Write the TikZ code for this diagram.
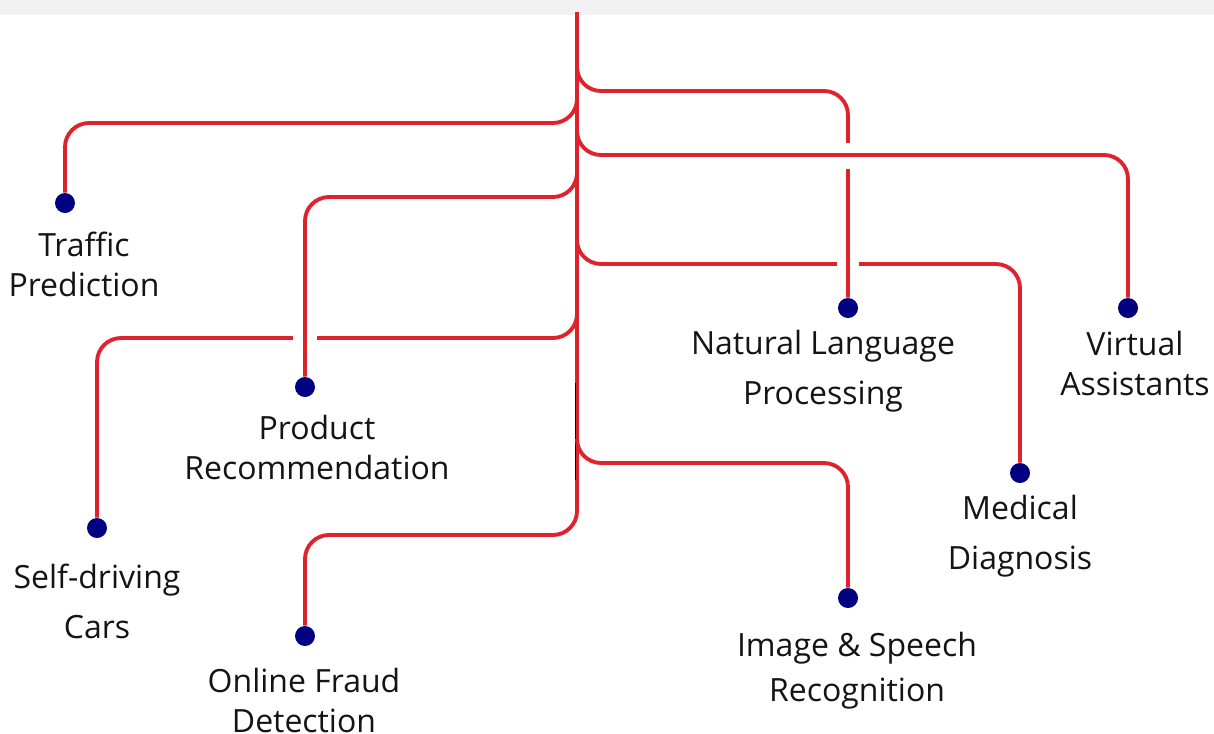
\documentclass[tikz,border=0pt]{standalone}
\usepackage{fontspec}
\setmainfont{Open Sans}
\definecolor{brred}{RGB}{222,35,45}
\definecolor{dotblue}{RGB}{0,0,128}
\definecolor{band}{RGB}{241,241,241}
\definecolor{overlay}{RGB}{150,40,100}
\begin{document}
\begin{tikzpicture}[x=0.75pt,y=-0.75pt,
  branch/.style={draw=brred,line width=2.9pt,rounded corners=18pt},
  gapfill/.style={fill=white},
  dot/.style={circle,fill=dotblue,inner sep=0pt,minimum size=15pt},
  lbl/.style={align=center,font=\fontsize{24}{30}\selectfont,text=black!92,inner sep=0pt}]
\useasboundingbox (0,0) rectangle (1214,733);
\fill[band] (0,0) rectangle (1214,15);

% dots
\node[dot] (dTraffic) at (65,203) {};
\node[dot] (dProduct) at (305,387) {};
\node[dot] (dSelf) at (97,528) {};
\node[dot] (dFraud) at (305,636) {};
\node[dot] (dNLP) at (848,308) {};
\node[dot] (dVirtual) at (1128,308) {};
\node[dot] (dMedical) at (1020,473) {};
\node[dot] (dImage) at (848,598) {};

% trunk coordinates
\coordinate (top) at (577,12);
\coordinate (tNLP) at (577,67);
\coordinate (tTraffic) at (577,99);
\coordinate (tVirtual) at (577,131);
\coordinate (tProduct) at (577,173);
\coordinate (tMedical) at (577,240);
\coordinate (tSelf) at (577,314);
\coordinate (tImage) at (577,439);

% trunk + online fraud branch
\draw[branch] (top) -- (577,535) -- (305,535) -- (dFraud);
\draw[overlay,line width=0.9pt] (575.5,383) -- (575.5,480);

% left branches
\draw[branch] (tTraffic) -- (577,123) -- (65,123) -- (dTraffic);
\draw[branch] (tSelf) -- (577,338) -- (97,338) -- (dSelf);
\fill[gapfill] (293,331) rectangle (317,345);
\draw[branch] (tProduct) -- (577,197) -- (305,197) -- (dProduct);

% right branches
\draw[branch] (tImage) -- (577,463) -- (848,463) -- (dImage);
\draw[branch] (tMedical) -- (577,264) -- (1020,264) -- (dMedical);
\fill[gapfill] (837,257) rectangle (859,271);
\draw[branch] (tNLP) -- (577,91) -- (848,91) -- (dNLP);
\fill[gapfill] (841,143) rectangle (855,169);
\draw[branch] (tVirtual) -- (577,155) -- (1128,155) -- (dVirtual);

% labels
\node[lbl] (lTraffic) at (84,264) {Traffic\\Prediction};
\node[lbl] (lProduct) at (317,447) {Product\\Recommendation};
\node[lbl] (lSelf) at (97,601) {Self-driving\\[7.5pt]Cars};
\node[lbl] (lFraud) at (304,700) {Online Fraud\\Detection};
\node[lbl] (lNLP) at (823,371) {Natural Language\\[7.5pt]Processing};
\node[lbl] (lVirtual) at (1135,363) {Virtual\\Assistants};
\node[lbl] (lMedical) at (1020,536) {Medical\\[7.5pt]Diagnosis};
\node[lbl] (lImage) at (857,671) {Image \& Speech\\[3.75pt]Recognition};
\end{tikzpicture}
\end{document}
